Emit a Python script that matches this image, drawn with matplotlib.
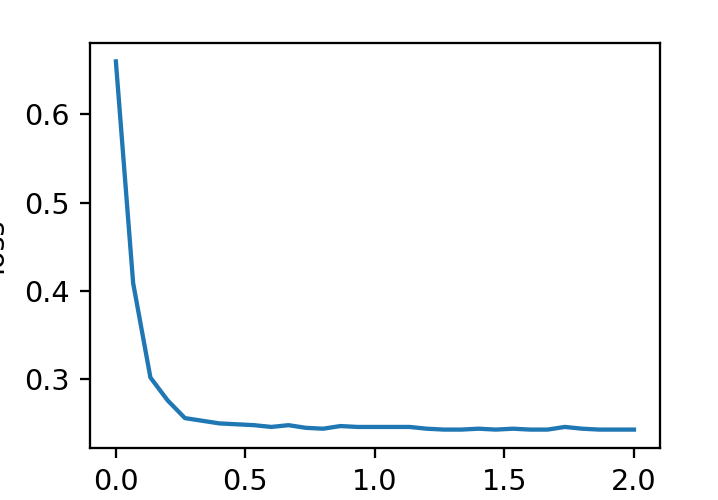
import numpy as np
import matplotlib
matplotlib.use("Agg")
import matplotlib.pyplot as plt

# loss per step
steps = np.linspace(0, 2.0, 31)
loss = [0.660, 0.409, 0.302, 0.276, 0.256, 0.253, 0.250, 0.249, 0.248, 0.246,
        0.248, 0.245, 0.244, 0.247, 0.246, 0.246, 0.246, 0.246, 0.244, 0.243,
        0.243, 0.244, 0.243, 0.244, 0.243, 0.243, 0.246, 0.244, 0.243, 0.243,
        0.243]

# reference looks like a default plot saved at ~2x scale
s = 2.06
plt.rcParams['font.size'] = 10 * s
plt.rcParams['axes.linewidth'] = 0.8 * s
for ax_name in ['xtick', 'ytick']:
    plt.rcParams[ax_name + '.major.size'] = 3.5 * s
    plt.rcParams[ax_name + '.major.width'] = 0.8 * s
    plt.rcParams[ax_name + '.major.pad'] = 3.5 * s

fig = plt.figure(figsize=(7.18, 5), dpi=100)
ax = fig.add_axes([0.1253, 0.104, 0.7937, 0.81])
ax.plot(steps, loss, color='#1f77b4', linewidth=1.5 * s)
ax.set_xticks([0.0, 0.5, 1.0, 1.5, 2.0])
ax.set_yticks([0.3, 0.4, 0.5, 0.6])
ax.set_ylabel('loss')
# the reference is cropped so only a sliver of the label shows
ax.yaxis.set_label_coords(-0.143, 0.5)

fig.savefig('out.png', dpi=100)
